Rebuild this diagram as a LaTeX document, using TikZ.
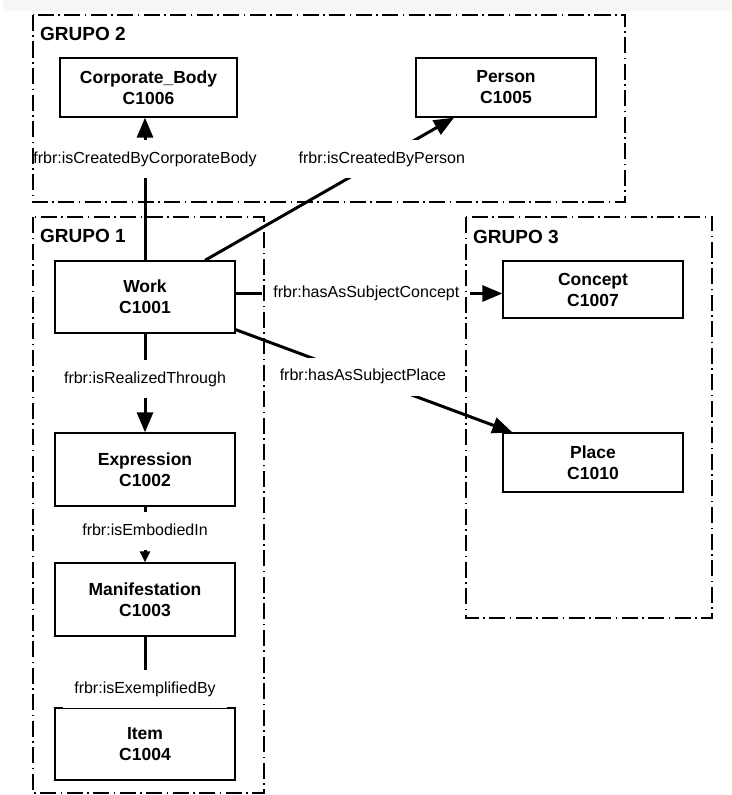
\documentclass[tikz,border=0pt]{standalone}
\usepackage{fontspec}
\setmainfont{Liberation Sans}
\usetikzlibrary{arrows.meta}

\begin{document}
\begin{tikzpicture}
  [
    x=1bp, y=-1bp,
    >={Triangle[length=20bp,width=16bp]},
    box/.style   = {draw, line width=1.3bp, fill=white, align=center,
                    minimum width=180bp, inner sep=0pt,
                    font=\bfseries\fontsize{17.5bp}{21bp}\selectfont},
    lbl/.style   = {fill=white, inner xsep=11bp, inner ysep=0pt, minimum height=38bp,
                    text height=11.5bp, text depth=3.4bp,
                    font=\fontsize{16bp}{19bp}\selectfont},
    rel/.style   = {line width=3bp},
    grp/.style   = {line width=1.4bp, dash pattern=on 16bp off 4.5bp on 1.5bp off 4.5bp},
    grplbl/.style= {anchor=base west, inner sep=0pt,
                    font=\bfseries\fontsize{19bp}{22bp}\selectfont},
  ]

 \useasboundingbox (0,0) rectangle (732,795);
 \fill[gray!7] (3,0) rectangle (732,11);

 % grupo 2
 \node [box, minimum width=177bp, minimum height=59bp] (Cb) at (148.5, 87.5) {Corporate\_Body\\C1006};
 \node [box, minimum height=59bp] (P)  at (506, 87.5)   {Person\\C1005};
 % grupo 1
 \node [box, minimum height=72bp] (W)  at (145, 297)    {Work\\C1001};
 \node [box, minimum height=73bp] (E)  at (145, 469.5)  {Expression\\C1002};
 \node [box, minimum height=73bp] (M)  at (145, 599.5)  {Manifestation\\C1003};
 \node [box, minimum height=72bp] (I)  at (145, 744)    {Item\\C1004};
 % grupo 3
 \node [box, minimum height=57bp] (Co) at (593, 289.5)  {Concept\\C1007};
 \node [box, minimum height=59bp] (Pl) at (593, 462.5)  {Place\\C1010};

  \path[->, rel]
     (W.north)                 edge node[lbl, pos=0.71] {frbr:isCreatedByCorporateBody} (W.north |- Cb.south)
     ([xshift=60bp]W.north)    edge node[lbl, pos=0.71] {frbr:isCreatedByPerson}        ([xshift=-52bp]P.south)
     ([yshift=3.5bp]W.east)    edge node[lbl, pos=0.49] {frbr:hasAsSubjectConcept}      ([yshift=3.5bp]W.east -| Co.west)
     ([yshift=4bp]W.south east) edge node[lbl, pos=0.46] {frbr:hasAsSubjectPlace}      ([xshift=10bp]Pl.north west)
     (W.south)                 edge node[lbl, pos=0.46] {frbr:isRealizedThrough}        (E.north);
  \path[-{Triangle[length=11bp,width=10bp]}, rel]
     (E.south)                 edge node[lbl, pos=0.44] {frbr:isEmbodiedIn}             (M.north);
  \path[rel]
     (M.south)                 edge node[lbl, pos=0.74] {frbr:isExemplifiedBy}          (I.north);

 \draw[grp] (33,15)  rectangle (625,202);
 \draw[grp] (33,217) rectangle (264,793);
 \draw[grp] (466,217) rectangle (712,618);
 \node[grplbl] (g2) at (40,40.5)  {GRUPO 2};
 \node[grplbl] (g1) at (40,242.7) {GRUPO 1};
 \node[grplbl] (g3) at (473,243)  {GRUPO 3};

\end{tikzpicture}
\end{document}
